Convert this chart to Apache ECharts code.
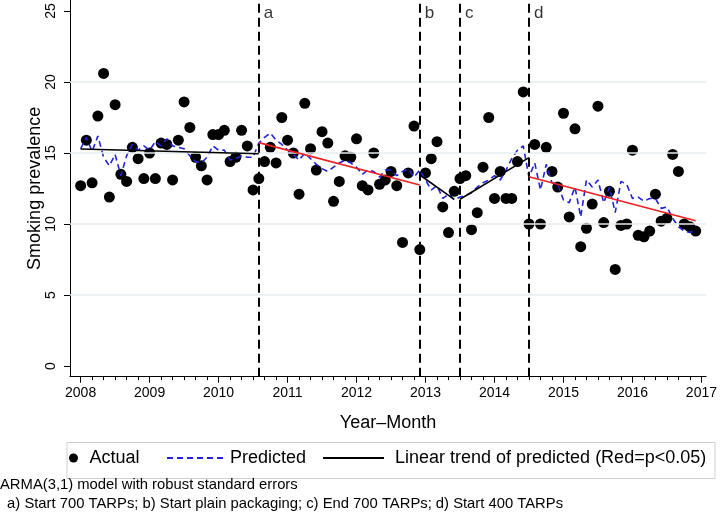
<!DOCTYPE html>
<html><head><meta charset="utf-8">
<script src="https://cdn.jsdelivr.net/npm/echarts@6/dist/echarts.min.js"></script>
<style>html,body{margin:0;padding:0;background:#fff}#chart{width:720px;height:512px}</style>
</head><body><div id="chart"></div>
<script>
// ---------- DATA ----------
const startYear = 2008, endYear = 2016;
const months = [];
for (let y = startYear; y <= endYear; y++) for (let m = 1; m <= 12; m++) months.push(y + '-' + String(m).padStart(2, '0'));

const actual = [
  12.7, 15.9, 12.9, 17.6, 20.6, 11.9, 18.4, 13.5, 13.0, 15.4, 14.6, 13.2,
  15.0, 13.2, 15.7, 15.6, 13.1, 15.9, 18.6, 16.8, 14.7, 14.1, 13.1, 16.3,
  16.3, 16.6, 14.4, 14.7, 16.6, 15.5, 12.4, 13.2, 14.4, 15.4, 14.3, 17.5,
  15.9, 15.0, 12.1, 18.5, 15.3, 13.8, 16.5, 15.7, 11.6, 13.0, 14.8, 14.7,
  16.0, 12.7, 12.4, 15.0, 12.8, 13.1, 13.7, 12.7, 8.7, 13.6, 16.9, 8.2,
  13.6, 14.6, 15.8, 11.2, 9.4, 12.3, 13.2, 13.4, 9.6, 10.8, 14.0, 17.5,
  11.8, 13.7, 11.8, 11.8, 14.4, 19.3, 10.0, 15.6, 10.0, 15.4, 13.7, 12.6,
  17.8, 10.5, 16.7, 8.4, 9.7, 11.4, 18.3, 10.1, 12.3, 6.8, 9.9, 10.0,
  15.2, 9.2, 9.1, 9.5, 12.1, 10.2, 10.4, 14.9, 13.7, 10.0, 9.8, 9.5
];
const predicted = [
  15.3, 16.1, 15.1, 16.2, 14.7, 14.1, 14.9, 13.4, 14.8, 15.6, 15.2, 15.5,
  15.2, 15.8, 15.5, 16.0, 15.5, 15.4, 15.3, 14.8, 14.4, 14.3, 14.7, 15.5,
  15.2, 15.2, 14.5, 14.6, 14.8, 14.7, 14.7, 15.7, 16.1, 16.4, 15.9, 15.6,
  15.2, 14.9, 14.5, 15.0, 14.6, 14.2, 13.9, 13.7, 14.0, 14.3, 14.5, 14.3,
  14.0, 13.5, 13.8, 13.7, 13.3, 13.8, 13.8, 13.4, 13.7, 13.9, 13.3, 13.8,
  13.1, 12.4, 12.7, 11.8, 12.1, 11.7, 11.9, 12.0, 12.2, 12.6, 12.9, 13.1,
  13.4, 13.1, 13.8, 14.6, 15.2, 15.5, 13.3, 14.3, 12.4, 14.2, 12.9, 12.8,
  11.7, 11.5, 12.6, 10.5, 13.1, 12.6, 13.1, 11.5, 12.6, 10.8, 13.0, 12.8,
  11.8, 11.9, 11.6, 11.8, 11.8, 11.1, 11.2, 10.4, 9.8, 9.5, 9.4, 9.6
];

const trendStarts = ['2008-01', '2010-08', '2012-12', '2013-07', '2014-07'];
const trendEnds = ['2010-08', '2012-12', '2013-06', '2014-07', '2016-12'];
const trendStartValues = [15.28, 15.73, 13.45, 11.74, 13.33];
const trendEndValues = [14.95, 12.75, 11.74, 14.67, 10.23];
const trendSignificant = [false, true, false, false, true];

const eventDates = ['2010-08', '2012-12', '2013-07', '2014-07'];
const eventLabels = ['a', 'b', 'c', 'd'];

const yTicks = [0, 5, 10, 15, 20, 25];
const yGrid = [5, 10, 15, 20];
const xYears = [2008, 2009, 2010, 2011, 2012, 2013, 2014, 2015, 2016, 2017];

const noteLines = [
  'ARMA(3,1) model with robust standard errors',
  ' a) Start 700 TARPs; b) Start plain packaging; c) End 700 TARPs; d) Start 400 TARPs'
];
const trendName = 'Linear trend of predicted (Red=p<0.05)';

// ---------- HELPERS ----------
function toX(label) { const p = label.split('-').map(Number); return p[0] + (p[1] - 1) / 12; }
const xMinor = [];
for (let y = 2008; y < 2017; y++) for (let k = 1; k < 6; k++) xMinor.push(y + k / 6);

const FONT = 'Liberation Sans';
const series = [];

series.push({
  name: 'grid', type: 'line', data: [], z: 0, silent: true,
  markLine: {
    silent: true, symbol: 'none', animation: false,
    label: { show: false },
    lineStyle: { color: '#e6edf0', width: 1.5, type: 'solid' },
    data: yGrid.map(v => ({ yAxis: v }))
  }
});

series.push({
  name: 'Actual', type: 'scatter', symbol: 'circle', symbolSize: 11,
  itemStyle: { color: '#000', opacity: 1 }, z: 3,
  data: months.map((m, i) => [toX(m), actual[i]])
});

series.push({
  name: 'Predicted', type: 'line', symbol: 'none', z: 4,
  lineStyle: { color: '#2222dd', width: 1.6, type: [6, 4] },
  itemStyle: { color: '#2222dd' },
  data: months.map((m, i) => [toX(m), predicted[i]])
});

trendStarts.forEach((s, i) => {
  const col = trendSignificant[i] ? '#ec2020' : '#000';
  series.push({
    name: trendSignificant[i] ? 'sig' + i : trendName, type: 'line', symbol: 'none', z: 5,
    lineStyle: { color: col, width: 1.6, type: 'solid' },
    itemStyle: { color: col },
    data: [[toX(s), trendStartValues[i]], [toX(trendEnds[i]), trendEndValues[i]]]
  });
});

series.push({
  name: 'events', type: 'scatter', symbolSize: 0, z: 6,
  data: eventDates.map((d, i) => ({ value: [toX(d), 24.84], label: { formatter: eventLabels[i] } })),
  label: { show: true, position: 'right', distance: 5, fontSize: 17, color: '#000', fontFamily: FONT },
  markLine: {
    silent: true, symbol: 'none', animation: false,
    label: { show: false },
    lineStyle: { color: '#000', width: 2, type: [9, 5] },
    data: eventDates.map(d => ({ xAxis: toX(d) }))
  }
});

const legendBase = {
  top: 449, orient: 'horizontal', selectedMode: false,
  textStyle: { fontSize: 18, color: '#000', fontFamily: FONT },
  padding: 0
};

const option = {
  animation: false,
  backgroundColor: '#fff',
  grid: { left: 70, right: 11, top: 0, bottom: 135.3, containLabel: false },
  xAxis: [{
    type: 'value', min: 2007.846, max: 2017.068, position: 'bottom',
    axisLine: { show: true, onZero: false, lineStyle: { color: '#000', width: 1 } },
    axisTick: { show: true, length: 6, customValues: xYears, lineStyle: { color: '#000' } },
    axisLabel: { show: true, customValues: xYears, fontSize: 14, color: '#000', margin: 9, fontFamily: FONT,
      formatter: v => String(Math.round(v)) },
    splitLine: { show: false },
    name: 'Year–Month', nameLocation: 'middle', nameGap: 37, nameMoveOverlap: false,
    nameTextStyle: { fontSize: 18, color: '#000', fontFamily: FONT }
  }, {
    type: 'value', min: 2007.846, max: 2017.068, position: 'bottom',
    axisLine: { show: false, onZero: false },
    axisTick: { show: true, length: 3.5, customValues: xMinor, lineStyle: { color: '#000' } },
    axisLabel: { show: false },
    splitLine: { show: false }
  }],
  yAxis: {
    type: 'value', min: -0.754, max: 25.775,
    axisLine: { show: true, onZero: false, lineStyle: { color: '#000', width: 1 } },
    axisTick: { show: true, length: 6, customValues: yTicks, lineStyle: { color: '#000' } },
    axisLabel: { show: true, customValues: yTicks, rotate: 90, fontSize: 14, color: '#000', margin: 12, fontFamily: FONT,
      formatter: v => String(Math.round(v)) },
    splitLine: { show: false },
    name: 'Smoking prevalence', nameLocation: 'middle', nameGap: 26, nameRotate: 90, nameMoveOverlap: false,
    nameTextStyle: { fontSize: 18, color: '#000', fontFamily: FONT }
  },
  legend: [
    Object.assign({}, legendBase, { left: 69, data: [{ name: 'Actual', icon: 'circle' }], itemWidth: 22, itemHeight: 9 }),
    Object.assign({}, legendBase, { left: 166, data: ['Predicted'], itemWidth: 58, itemHeight: 14,
      itemStyle: { opacity: 0 } }),
    Object.assign({}, legendBase, { left: 322, data: [trendName], itemWidth: 61, itemHeight: 14,
      itemStyle: { opacity: 0 },
      textStyle: { fontSize: 18, color: '#000', fontFamily: FONT, padding: [0, 0, 0, 6] } })
  ],
  graphic: [
    { type: 'rect', left: 64.5, top: 440, shape: { width: 648, height: 36 }, style: { fill: 'none', stroke: '#cfcfcf', lineWidth: 1 }, z: -1 },
    { type: 'text', left: 0, top: 477, style: { text: noteLines[0], fontSize: 14.8, fill: '#000', fontFamily: FONT } },
    { type: 'text', left: 3, top: 496, style: { text: noteLines[1], fontSize: 14.8, fill: '#000', fontFamily: FONT } }
  ],
  series: series
};

const chart = echarts.init(document.getElementById('chart'), null, { renderer: 'canvas' });
chart.setOption(option);
</script>
</body></html>
